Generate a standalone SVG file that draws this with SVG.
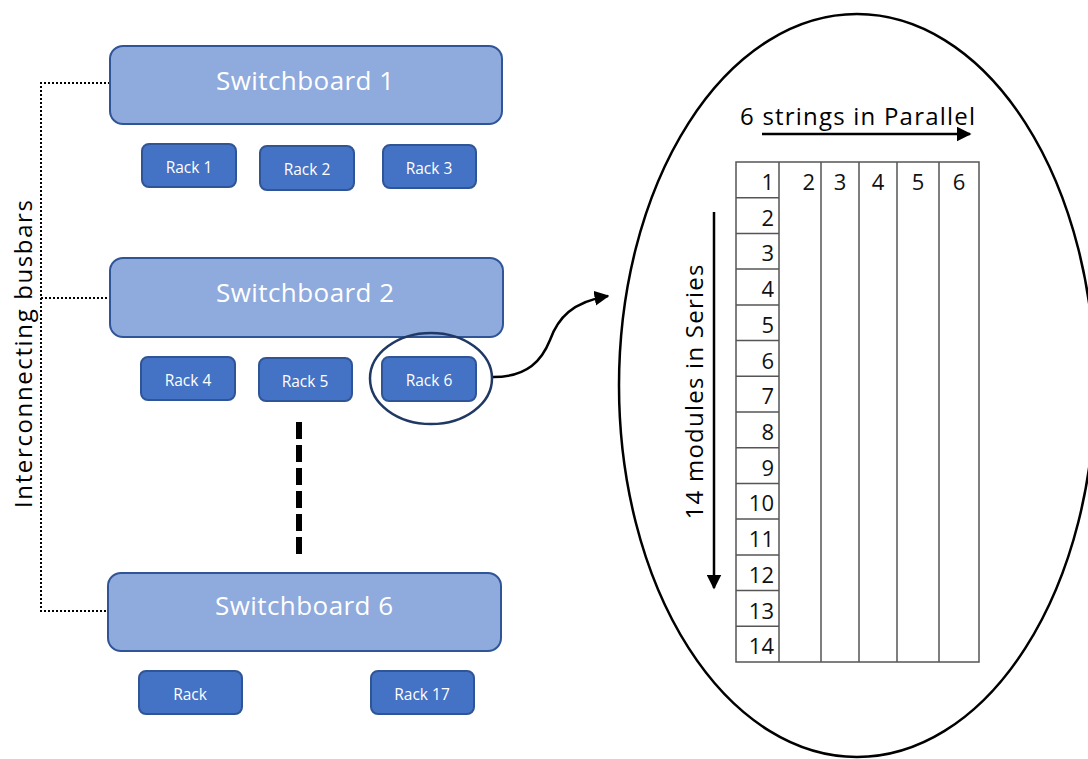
<svg xmlns="http://www.w3.org/2000/svg" width="1088" height="759" viewBox="0 0 1088 759">
<defs>
<style>
.sb{fill:#8FAADC;stroke:#2F5597;stroke-width:2}
.rk{fill:#4472C4;stroke:#2F5597;stroke-width:2}
.sbt{font-family:"Open Sans","Liberation Sans",Arial,sans-serif;font-size:26px;fill:#ffffff;text-anchor:middle}
.rkt{font-family:"Open Sans","Liberation Sans",Arial,sans-serif;font-size:15.5px;fill:#ffffff;text-anchor:middle}
.lbl{font-family:"Open Sans","Liberation Sans",Arial,sans-serif;font-size:24px;fill:#000000}
.num{font-family:"Open Sans","Liberation Sans",Arial,sans-serif;font-size:22px;fill:#111111}
.grid{fill:none;stroke:#555555;stroke-width:1.5}
.dot{fill:none;stroke:#000000;stroke-width:2;stroke-dasharray:2,2}
</style>
<marker id="ah" viewBox="0 0 10 10" refX="9" refY="5" markerWidth="6" markerHeight="6" orient="auto" markerUnits="strokeWidth">
<path d="M0,0 L10,5 L0,10 z" fill="#000000"/>
</marker>
</defs>
<rect width="1088" height="759" fill="#ffffff"/>

<g id="connectors">
<path class="dot" d="M110 83 H41 V611 H110"/>
<path class="dot" d="M41 298 H110"/>
<path d="M299 422 V555" stroke="#000000" stroke-width="6" stroke-dasharray="17,6" fill="none"/>
<path d="M493 377 C528 377 542 360 550 340 C558 318 572 302 608 296" fill="none" stroke="#000000" stroke-width="2.5" marker-end="url(#ah)"/>
<path d="M762 134 H970" stroke="#000000" stroke-width="2.5" marker-end="url(#ah)"/>
<path d="M714 212 V588" stroke="#000000" stroke-width="2.5" marker-end="url(#ah)"/>
</g>

<text class="lbl" transform="translate(32,354) rotate(-90)" text-anchor="middle" textLength="308" lengthAdjust="spacing">Interconnecting busbars</text>

<g id="switchboard1">
<rect class="sb" x="110" y="46" width="392" height="78" rx="13"/>
<text class="sbt" x="305" y="90" textLength="178" lengthAdjust="spacing">Switchboard 1</text>
</g>
<g id="rack1"><rect class="rk" x="142" y="144" width="94" height="43" rx="7"/><text class="rkt" x="189" y="173">Rack 1</text></g>
<g id="rack2"><rect class="rk" x="260" y="146" width="94" height="44" rx="7"/><text class="rkt" x="307" y="175">Rack 2</text></g>
<g id="rack3"><rect class="rk" x="383" y="145" width="93" height="43" rx="7"/><text class="rkt" x="429" y="174">Rack 3</text></g>

<g id="switchboard2">
<rect class="sb" x="110" y="258" width="393" height="79" rx="13"/>
<text class="sbt" x="305" y="302" textLength="178" lengthAdjust="spacing">Switchboard 2</text>
</g>
<g id="rack4"><rect class="rk" x="141" y="357" width="94" height="43" rx="7"/><text class="rkt" x="188" y="386">Rack 4</text></g>
<g id="rack5"><rect class="rk" x="259" y="358" width="93" height="43" rx="7"/><text class="rkt" x="305" y="387">Rack 5</text></g>
<g id="rack6"><rect class="rk" x="382" y="357" width="94" height="44" rx="7"/><text class="rkt" x="429" y="386">Rack 6</text></g>
<ellipse id="rack6-highlight" cx="431" cy="378.5" rx="61" ry="45.5" fill="none" stroke="#203864" stroke-width="2.5"/>

<g id="switchboard6">
<rect class="sb" x="108" y="573" width="393" height="78" rx="13"/>
<text class="sbt" x="304" y="615" textLength="178" lengthAdjust="spacing">Switchboard 6</text>
</g>
<g id="rack-unnamed"><rect class="rk" x="139" y="671" width="103" height="43" rx="7"/><text class="rkt" x="190" y="700">Rack</text></g>
<g id="rack17"><rect class="rk" x="371" y="671" width="103" height="43" rx="7"/><text class="rkt" x="422" y="700">Rack 17</text></g>

<g id="detail">
<ellipse cx="857" cy="385.5" rx="238" ry="371.5" fill="none" stroke="#000000" stroke-width="2.5"/>
<text class="lbl" x="740" y="125" textLength="235" lengthAdjust="spacing">6 strings in Parallel</text>
<text class="lbl" transform="translate(703,392) rotate(-90)" text-anchor="middle" textLength="255" lengthAdjust="spacing">14 modules in Series</text>
<g id="table">
<rect class="grid" x="736" y="162" width="243" height="500"/>
<path class="grid" d="M779 162 V662 M821 162 V662 M859 162 V662 M897 162 V662 M939 162 V662"/>
<path class="grid" d="M736 197.7 H779 M736 233.4 H779 M736 269.1 H779 M736 304.9 H779 M736 340.6 H779 M736 376.3 H779 M736 412 H779 M736 447.7 H779 M736 483.4 H779 M736 519.1 H779 M736 554.9 H779 M736 590.6 H779 M736 626.3 H779"/>
<g class="num" text-anchor="end">
<text x="774" y="190">1</text>
<text x="774" y="225.7">2</text>
<text x="774" y="261.4">3</text>
<text x="774" y="297.1">4</text>
<text x="774" y="332.9">5</text>
<text x="774" y="368.6">6</text>
<text x="774" y="404.3">7</text>
<text x="774" y="440">8</text>
<text x="774" y="475.7">9</text>
<text x="774" y="511.4">10</text>
<text x="774" y="547.1">11</text>
<text x="774" y="582.9">12</text>
<text x="774" y="618.6">13</text>
<text x="774" y="654.3">14</text>
<text x="815" y="190">2</text>
</g>
<g class="num" text-anchor="middle">
<text x="840" y="190">3</text>
<text x="878" y="190">4</text>
<text x="918" y="190">5</text>
<text x="959" y="190">6</text>
</g>
</g>
</g>
</svg>
